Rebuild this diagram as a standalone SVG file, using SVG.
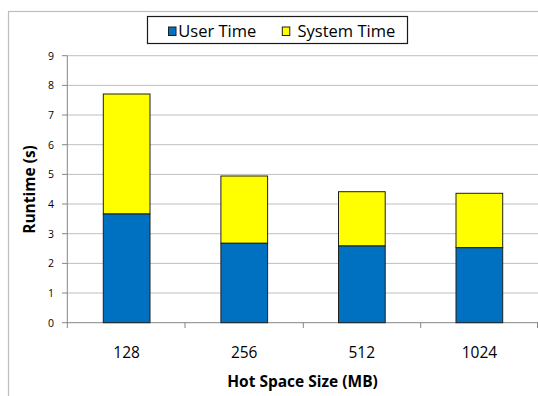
<svg xmlns="http://www.w3.org/2000/svg" width="538" height="396" viewBox="0 0 538 396">
<style>
.grid{stroke:#bfbfbf;stroke-width:1}
.axis{stroke:#868686;stroke-width:1}
.user{fill:#0070c0;stroke:#1f1f1f;stroke-width:1}
.sys{fill:#ffff00;stroke:#1f1f1f;stroke-width:1}
.tick{font-family:"Open Sans","Liberation Sans",sans-serif;font-size:10.5px;fill:#000;text-anchor:end}
.cat{font-family:"Open Sans","Liberation Sans",sans-serif;font-size:15.5px;fill:#000;text-anchor:middle}
.title{font-family:"Open Sans","Liberation Sans",sans-serif;font-size:15.5px;font-weight:bold;fill:#000;text-anchor:middle}
.leg{font-family:"Open Sans","Liberation Sans",sans-serif;font-size:16.5px;fill:#000}
</style>
<rect x="0" y="0" width="538" height="396" fill="#fff"/>
<rect id="chart-border" x="8.5" y="11.5" width="545" height="400" fill="none" stroke="#bdbdbd" stroke-width="1.2"/>
<g id="gridlines">
<line class="grid" x1="67" y1="293" x2="538" y2="293"/>
<line class="grid" x1="67" y1="263.4" x2="538" y2="263.4"/>
<line class="grid" x1="67" y1="233.7" x2="538" y2="233.7"/>
<line class="grid" x1="67" y1="204" x2="538" y2="204"/>
<line class="grid" x1="67" y1="174.4" x2="538" y2="174.4"/>
<line class="grid" x1="67" y1="144.7" x2="538" y2="144.7"/>
<line class="grid" x1="67" y1="115" x2="538" y2="115"/>
<line class="grid" x1="67" y1="85.4" x2="538" y2="85.4"/>
<line class="grid" x1="67" y1="55.7" x2="538" y2="55.7"/>
</g>
<g id="axes">
<line class="axis" x1="67.3" y1="55.7" x2="67.3" y2="328"/>
<line class="axis" x1="62" y1="322.7" x2="538" y2="322.7"/>
<line class="axis" x1="62" y1="293" x2="67" y2="293"/>
<line class="axis" x1="62" y1="263.4" x2="67" y2="263.4"/>
<line class="axis" x1="62" y1="233.7" x2="67" y2="233.7"/>
<line class="axis" x1="62" y1="204" x2="67" y2="204"/>
<line class="axis" x1="62" y1="174.4" x2="67" y2="174.4"/>
<line class="axis" x1="62" y1="144.7" x2="67" y2="144.7"/>
<line class="axis" x1="62" y1="115" x2="67" y2="115"/>
<line class="axis" x1="62" y1="85.4" x2="67" y2="85.4"/>
<line class="axis" x1="62" y1="55.7" x2="67" y2="55.7"/>
<line class="axis" x1="185" y1="322.7" x2="185" y2="328"/>
<line class="axis" x1="303.3" y1="322.7" x2="303.3" y2="328"/>
<line class="axis" x1="420.7" y1="322.7" x2="420.7" y2="328"/>
<line class="axis" x1="537.5" y1="322.7" x2="537.5" y2="328"/>
</g>
<g id="y-tick-labels">
<text class="tick" x="54" y="326.5">0</text>
<text class="tick" x="54" y="296.8">1</text>
<text class="tick" x="54" y="267.2">2</text>
<text class="tick" x="54" y="237.5">3</text>
<text class="tick" x="54" y="207.8">4</text>
<text class="tick" x="54" y="178.2">5</text>
<text class="tick" x="54" y="148.5">6</text>
<text class="tick" x="54" y="118.8">7</text>
<text class="tick" x="54" y="89.2">8</text>
<text class="tick" x="54" y="59.5">9</text>
</g>
<g id="bar-128">
<rect class="sys" x="103.3" y="94" width="46.7" height="120"/>
<rect class="user" x="103.3" y="214" width="46.7" height="108.7"/>
</g>
<g id="bar-256">
<rect class="sys" x="220.9" y="176" width="46.7" height="67.3"/>
<rect class="user" x="220.9" y="243.3" width="46.7" height="79.4"/>
</g>
<g id="bar-512">
<rect class="sys" x="338.5" y="191.7" width="46.7" height="54.3"/>
<rect class="user" x="338.5" y="246" width="46.7" height="76.7"/>
</g>
<g id="bar-1024">
<rect class="sys" x="456" y="193.3" width="46.7" height="54.4"/>
<rect class="user" x="456" y="247.7" width="46.7" height="75"/>
</g>
<g id="x-labels">
<text class="cat" x="126.6" y="358.3">128</text>
<text class="cat" x="244.2" y="358.3">256</text>
<text class="cat" x="361.8" y="358.3">512</text>
<text class="cat" x="479.4" y="358.3">1024</text>
</g>
<g id="axis-titles">
<text class="title" x="302.5" y="386.5">Hot Space Size (MB)</text>
<text class="title" transform="translate(35,189.5) rotate(-90)">Runtime (s)</text>
</g>
<g id="legend">
<rect x="147.5" y="16.5" width="260" height="27" fill="#fff" stroke="#1a1a1a" stroke-width="1.2"/>
<rect x="168.5" y="27" width="7.5" height="8.5" fill="#0070c0" stroke="#1f1f1f" stroke-width="1"/>
<text class="leg" x="178.3" y="36.7">User Time</text>
<rect x="282.3" y="27" width="7.5" height="8.5" fill="#ffff00" stroke="#1f1f1f" stroke-width="1"/>
<text class="leg" x="297.5" y="36.7">System Time</text>
</g>
</svg>
